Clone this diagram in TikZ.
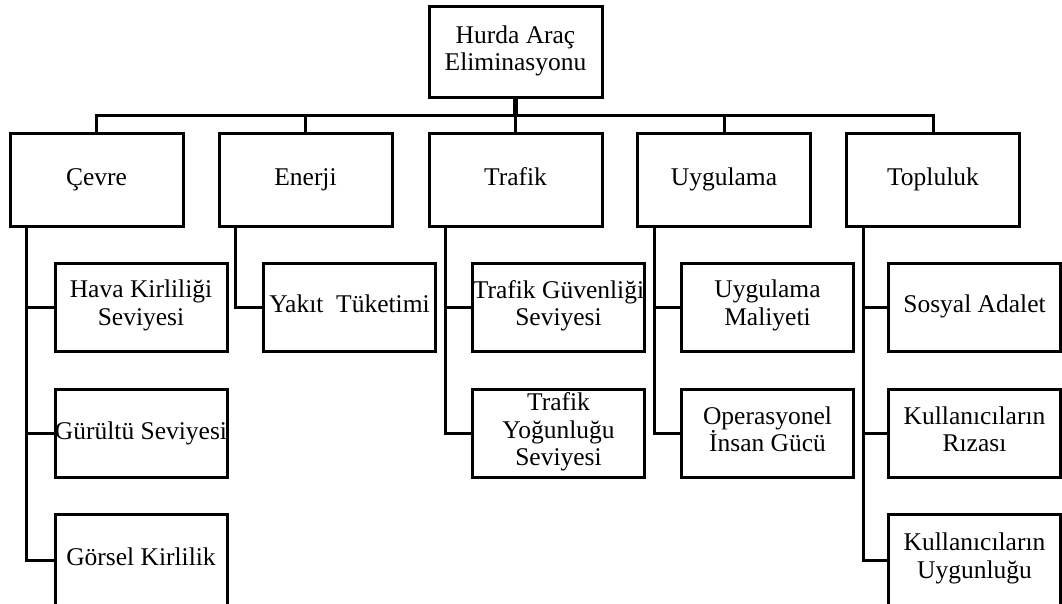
\documentclass[tikz,border=0pt]{standalone}
\usepackage{fontspec}
\setmainfont{Liberation Serif}
\newcommand{\fitline}[1]{\makebox[150pt][c]{#1}}
\begin{document}
\begin{tikzpicture}[x=1pt,y=-1pt,
  box/.style={draw=black,line width=3pt,inner sep=0pt,align=center,
    font=\fontsize{25.5}{27.5}\selectfont,
    execute at begin node=\strut, execute at end node=\strut},
  topbox/.style={box,minimum width=173pt,minimum height=91pt},
  catbox/.style={box,minimum width=173pt,minimum height=92pt},
  subbox/.style={box,minimum width=172pt,minimum height=88pt},
  lastbox/.style={box,minimum width=172pt,minimum height=92pt},
  conn/.style={draw=black,line width=3pt},
  rootconn/.style={draw=black,line width=4.5pt}]
\useasboundingbox (0,0) rectangle (1062,604);
\clip (0,0) rectangle (1062,604);
\fill[white] (0,0) rectangle (1062,604);

% root
\node[topbox] (root) at (515.5,52.5) {Hurda Araç\\Eliminasyonu};

% categories
\node[catbox] (cevre) at (96.5,180) {Çevre};
\node[catbox] (enerji) at (305.5,180) {Enerji};
\node[catbox] (trafik) at (515.5,180) {Trafik};
\node[catbox] (uyg) at (724,180) {Uygulama};
\node[catbox] (topl) at (933,180) {Topluluk};

% sub-criteria
\node[subbox] (hava) at (141,307) {Hava Kirliliği\\Seviyesi};
\node[subbox] (gurultu) at (141,433.5) {\fitline{Gürültü Seviyesi}};
\node[lastbox] (gorsel) at (141,560) {Görsel Kirlilik};

\node[subbox] (yakit) at (349.5,307) {\fitline{Yakıt\ \ Tüketimi}};

\node[subbox] (tguv) at (558.5,307) {\fitline{Trafik Güvenliği}\\Seviyesi};
\node[subbox] (tyog) at (558.5,433.5) {Trafik\\Yoğunluğu\\Seviyesi};

\node[subbox] (umal) at (767.5,307) {Uygulama\\Maliyeti};
\node[subbox] (oper) at (767.5,433.5) {Operasyonel\\İnsan Gücü};

\node[subbox] (sosyal) at (974.5,307) {Sosyal Adalet};
\node[subbox] (riza) at (974.5,433.5) {Kullanıcıların\\Rızası};
\node[lastbox] (uygun) at (974.5,560) {Kullanıcıların\\Uygunluğu};

% bus
\coordinate (bus) at (515.5,116);
\draw[rootconn] (root.south) -- (bus);
\draw[conn] (cevre.north) |- (bus) -| (topl.north);
\draw[conn] (enerji.north) -- (enerji.north |- bus);
\draw[conn] (trafik.north) -- (trafik.north |- bus);
\draw[conn] (uyg.north) -- (uyg.north |- bus);

% trunks
\draw[conn] ([xshift=18pt]cevre.south west) |- (hava.west);
\draw[conn] ([xshift=18pt]cevre.south west) |- (gurultu.west);
\draw[conn] ([xshift=18pt]cevre.south west) |- (gorsel.west);

\draw[conn] ([xshift=18pt]enerji.south west) |- (yakit.west);

\draw[conn] ([xshift=18pt]trafik.south west) |- (tguv.west);
\draw[conn] ([xshift=18pt]trafik.south west) |- (tyog.west);

\draw[conn] ([xshift=18pt]uyg.south west) |- (umal.west);
\draw[conn] ([xshift=18pt]uyg.south west) |- (oper.west);

\draw[conn] ([xshift=18pt]topl.south west) |- (sosyal.west);
\draw[conn] ([xshift=18pt]topl.south west) |- (riza.west);
\draw[conn] ([xshift=18pt]topl.south west) |- (uygun.west);
\end{tikzpicture}
\end{document}
